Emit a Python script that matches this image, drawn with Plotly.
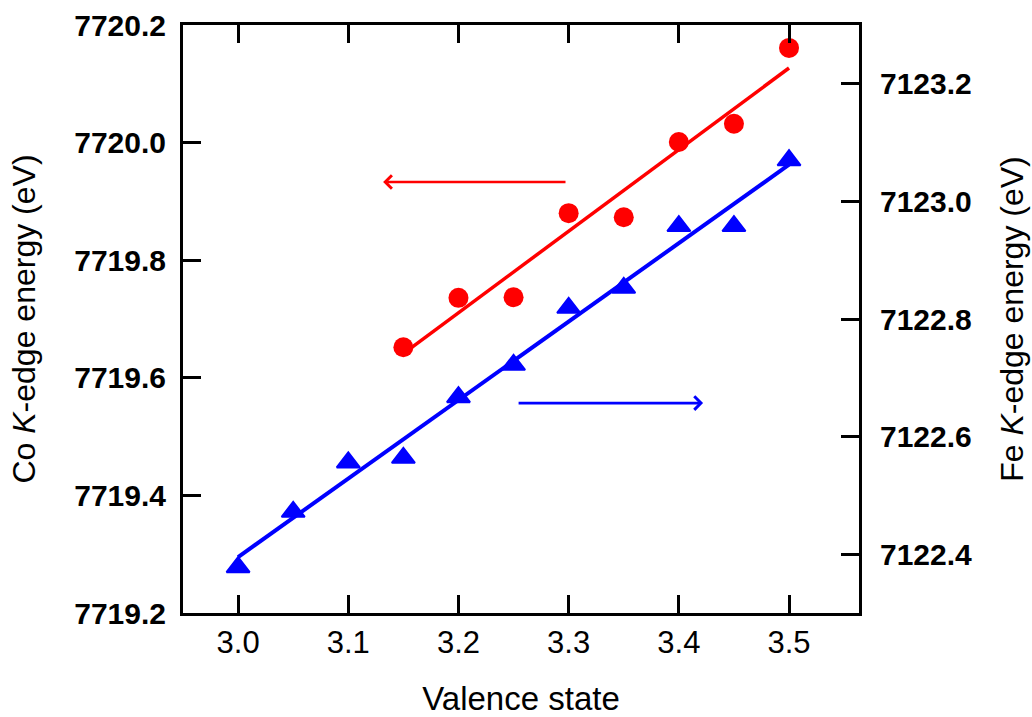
import numpy as np
import plotly.graph_objects as go

# ---- data ----
valence_co = [3.15, 3.20, 3.25, 3.30, 3.35, 3.40, 3.45, 3.50]
co_energy = [7719.652, 7719.736, 7719.737, 7719.880, 7719.873, 7720.001, 7720.032, 7720.161]

valence_fe = [3.00, 3.05, 3.10, 3.15, 3.20, 3.25, 3.30, 3.35, 3.40, 3.45, 3.50]
fe_energy = [7122.378, 7122.472, 7122.556, 7122.564, 7122.667, 7122.722,
             7122.819, 7122.853, 7122.958, 7122.958, 7123.070]

x_tick_vals = [3.0, 3.1, 3.2, 3.3, 3.4, 3.5]
co_tick_vals = [7719.2, 7719.4, 7719.6, 7719.8, 7720.0, 7720.2]
fe_tick_vals = [7122.4, 7122.6, 7122.8, 7123.0, 7123.2]

x_range = [2.950, 3.5635]
co_range = [7719.2, 7720.2]
fe_range = [7122.3, 7123.3]

# linear fits
co_fit = np.polyfit(valence_co, co_energy, 1)
fe_fit = np.polyfit(valence_fe, fe_energy, 1)
co_fit_x = [min(valence_co), max(valence_co)]
fe_fit_x = [min(valence_fe), max(valence_fe)]

RED = "#FF0000"
BLUE = "#0000FF"
FONT = "Liberation Sans, Arial, sans-serif"

fig = go.Figure()

fig.add_trace(go.Scatter(
    x=co_fit_x, y=list(np.polyval(co_fit, co_fit_x)), mode="lines",
    line=dict(color=RED, width=3.5), yaxis="y", showlegend=False, hoverinfo="skip"))
fig.add_trace(go.Scatter(
    x=valence_co, y=co_energy, mode="markers",
    marker=dict(symbol="circle", size=20, color=RED), yaxis="y", showlegend=False,
    name="Co"))

fig.add_trace(go.Scatter(
    x=fe_fit_x, y=list(np.polyval(fe_fit, fe_fit_x)), mode="lines",
    line=dict(color=BLUE, width=4), yaxis="y2", showlegend=False, hoverinfo="skip"))
fig.add_trace(go.Scatter(
    x=valence_fe, y=fe_energy, mode="markers",
    marker=dict(symbol="triangle-up", size=20, color=BLUE,
                line=dict(color=BLUE, width=2)),
    yaxis="y2", showlegend=False, name="Fe"))

# arrows indicating which axis each series belongs to
co_arrow = dict(head_x=3.1316, tail_x=3.2985, y=7719.933)
fe_arrow = dict(head_x=3.4220, tail_x=3.2532, y=7122.657)

annotations = [
    dict(x=co_arrow["head_x"], y=co_arrow["y"], ax=co_arrow["tail_x"], ay=co_arrow["y"],
         xref="x", yref="y", axref="x", ayref="y", text="", showarrow=True,
         arrowhead=4, arrowsize=1.0, arrowwidth=2.6, arrowcolor=RED),
    dict(x=fe_arrow["head_x"], y=fe_arrow["y"], ax=fe_arrow["tail_x"], ay=fe_arrow["y"],
         xref="x", yref="y2", axref="x", ayref="y2", text="", showarrow=True,
         arrowhead=4, arrowsize=1.0, arrowwidth=2.6, arrowcolor=BLUE),
]

tick_common = dict(ticks="inside", ticklen=18, tickwidth=3, tickcolor="black",
                   showline=True, linecolor="black", linewidth=3,
                   showgrid=False, zeroline=False, automargin=False)

fig.update_layout(
    width=1032, height=717,
    margin=dict(l=183, r=173, t=25, b=104, autoexpand=False),
    paper_bgcolor="white", plot_bgcolor="white",
    font=dict(family=FONT, color="black"),
    xaxis=dict(range=x_range, tickvals=x_tick_vals, tickformat=".1f",
               mirror="ticks", tickfont=dict(size=31, family=FONT),
               ticklabelstandoff=0,
               title=dict(text="Valence state", font=dict(size=33, family=FONT), standoff=40),
               **tick_common),
    yaxis=dict(range=co_range, tickvals=co_tick_vals, tickformat=".1f",
               tickfont=dict(size=30, family=FONT, weight="bold"),
               ticklabelstandoff=8,
               title=dict(text="Co <i>K</i>-edge energy (eV)", font=dict(size=32, family=FONT),
                          standoff=30),
               **tick_common),
    yaxis2=dict(range=fe_range, tickvals=fe_tick_vals, tickformat=".1f",
                overlaying="y", side="right",
                tickfont=dict(size=30, family=FONT, weight="bold"),
                ticklabelstandoff=12,
                title=dict(text="Fe <i>K</i>-edge energy (eV)", font=dict(size=32, family=FONT),
                           standoff=30),
                **tick_common),
    annotations=annotations,
)

fig.write_html("out.html")
